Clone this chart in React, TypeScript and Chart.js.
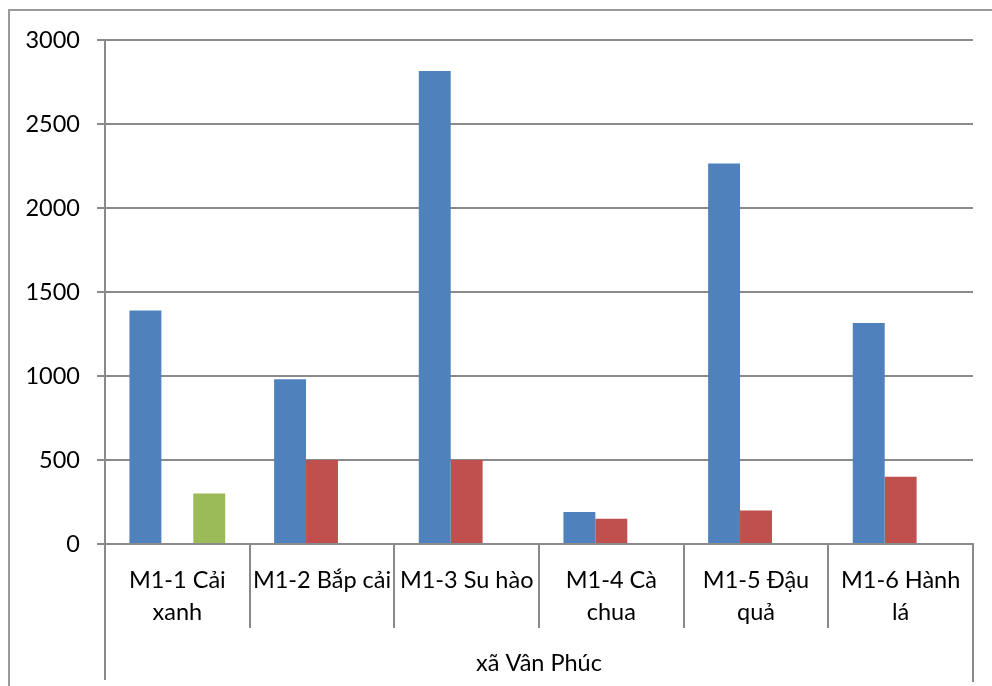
import React, { useEffect, useRef } from "react";
import { Chart, registerables } from "chart.js";

Chart.register(...registerables);

// Crop categories (multi-line labels) and the commune they belong to
const categories: string[][] = [
  ["M1-1 Cải", "xanh"],
  ["M1-2 Bắp cải"],
  ["M1-3 Su hào"],
  ["M1-4 Cà", "chua"],
  ["M1-5 Đậu", "quả"],
  ["M1-6 Hành", "lá"],
];
const groupLabel = "xã Vân Phúc";

// Series values
const blueValues = [1390, 980, 2815, 190, 2265, 1315];
const redValues: (number | null)[] = [null, 500, 500, 150, 200, 400];
const greenValues: (number | null)[] = [300, null, null, null, null, null];

// Value axis
const yMin = 0;
const yMax = 3000;
const yStep = 500;

const FONT = "Lato, 'Open Sans', sans-serif";
const FONT_SIZE = 23.5;
const GRID = "#8a8a8a";

// Draws the outer frame, the extended outer axis separators and the group label
const framePlugin = {
  id: "frame",
  afterDraw(chart: any) {
    const { ctx } = chart;
    const x = chart.scales.x;
    const area = chart.chartArea;
    ctx.save();
    ctx.strokeStyle = "#9a9a9a";
    ctx.lineWidth = 2;
    ctx.beginPath();
    ctx.moveTo(9, chart.height);
    ctx.lineTo(9, 10);
    ctx.lineTo(chart.width, 10);
    ctx.stroke();

    ctx.strokeStyle = GRID;
    ctx.lineWidth = 2;
    ctx.beginPath();
    ctx.moveTo(area.left, area.bottom);
    ctx.lineTo(area.left, 680);
    ctx.moveTo(area.right, area.bottom);
    ctx.lineTo(area.right, 682);
    ctx.stroke();

    ctx.fillStyle = "#000";
    ctx.font = `${FONT_SIZE}px ${FONT}`;
    ctx.textAlign = "center";
    ctx.textBaseline = "middle";
    ctx.fillText(groupLabel, (x.left + x.right) / 2, 663);
    ctx.restore();
  },
};

export default function App() {
  const ref = useRef<HTMLCanvasElement | null>(null);

  useEffect(() => {
    if (!ref.current) return;
    const chart = new Chart(ref.current, {
      type: "bar",
      data: {
        labels: categories,
        datasets: [
          { label: "A", data: blueValues, backgroundColor: "#4f81bd" },
          { label: "B", data: redValues, backgroundColor: "#c0504d" },
          { label: "C", data: greenValues, backgroundColor: "#9bbb59" },
        ],
      },
      options: {
        animation: false,
        responsive: false,
        maintainAspectRatio: false,
        layout: { padding: { left: 0, top: 40, right: 19, bottom: 0 } },
        plugins: { legend: { display: false }, tooltip: { enabled: false } },
        datasets: { bar: { categoryPercentage: 0.662, barPercentage: 1 } },
        scales: {
          x: {
            offset: true,
            afterFit(scale: any) {
              scale.height = 142;
            },
            grid: {
              offset: true,
              drawOnChartArea: false,
              drawTicks: true,
              tickLength: 84,
              color: GRID,
              lineWidth: 2,
            },
            border: { display: true, color: GRID, width: 2 },
            ticks: {
              color: "#000",
              padding: -64,
              maxRotation: 0,
              autoSkip: false,
              font: { family: FONT, size: FONT_SIZE, lineHeight: 32 / FONT_SIZE },
            },
          },
          y: {
            min: yMin,
            max: yMax,
            afterFit(scale: any) {
              scale.width = 105;
            },
            grid: { color: GRID, lineWidth: 2, tickLength: 8 },
            border: { display: true, color: GRID, width: 2 },
            ticks: {
              stepSize: yStep,
              color: "#000",
              padding: 17,
              callback: (v: any) => String(v),
              font: { family: FONT, size: FONT_SIZE },
            },
          },
        },
      },
      plugins: [framePlugin],
    });
    return () => chart.destroy();
  }, []);

  return (
    <div style={{ position: "fixed", left: 0, top: 0, width: 992, height: 686, background: "#fff" }}>
      <canvas ref={ref} width={992} height={686} style={{ display: "block", width: 992, height: 686 }} />
    </div>
  );
}
